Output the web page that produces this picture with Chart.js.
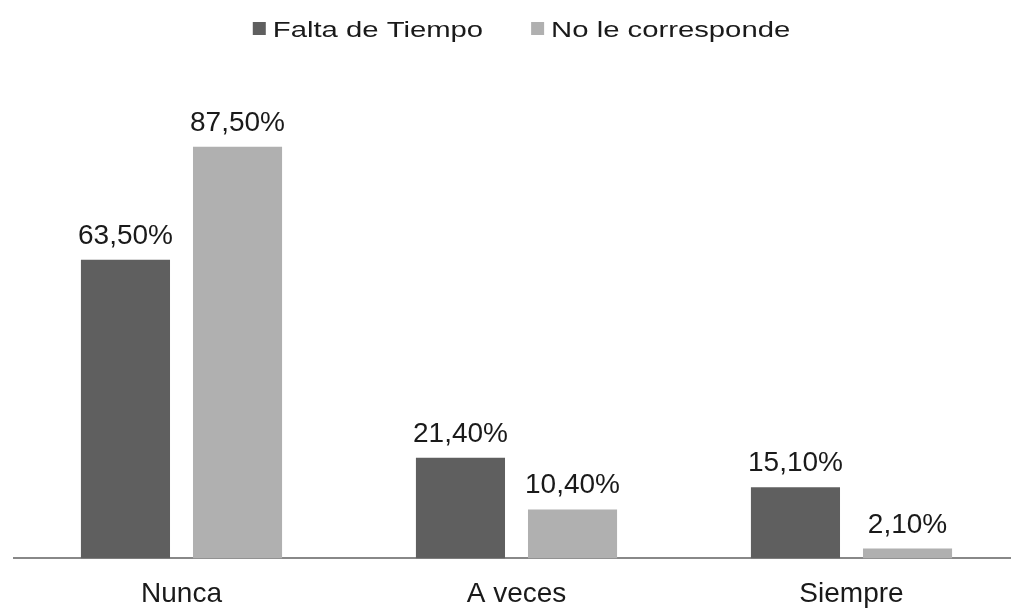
<!DOCTYPE html>
<html>
<head>
<meta charset="utf-8">
<script src="https://cdn.jsdelivr.net/npm/chart.js@4/dist/chart.umd.min.js"></script>
<style>
  html, body { margin: 0; padding: 0; background: #fff; overflow: hidden; }
  #wrap { position: relative; width: 1019px; height: 630px; }
</style>
</head>
<body>
<div id="wrap"><canvas id="c"></canvas></div>
<script>
const categories = ["Nunca", "A veces", "Siempre"];
const seriesNames = ["Falta de Tiempo", "No le corresponde"];
const faltaDeTiempo = [63.5, 21.4, 15.1];
const noLeCorresponde = [87.5, 10.4, 2.1];
const seriesColors = ["#5f5f5f", "#b0b0b0"];

function fmt(v) { return v.toFixed(2).replace('.', ',') + '%'; }

const TEXT_FONT = '"Liberation Sans", Arial, sans-serif';

const labelsPlugin = {
  id: 'valueLabels',
  afterDatasetsDraw(chart) {
    const ctx = chart.ctx;
    ctx.save();
    ctx.font = '28px ' + TEXT_FONT;
    ctx.fillStyle = '#1a1a1a';
    ctx.textAlign = 'center';
    ctx.textBaseline = 'alphabetic';
    chart.data.datasets.forEach((ds, di) => {
      const meta = chart.getDatasetMeta(di);
      meta.data.forEach((bar, i) => {
        ctx.fillText(fmt(ds.data[i]), bar.x, bar.y - 16);
      });
    });
    ctx.restore();
  }
};

const legendPlugin = {
  id: 'stretchedLegend',
  afterDraw(chart) {
    const ctx = chart.ctx;
    const sx = 1.33, box = 13, boxGap = 7, itemGap = 48;
    ctx.save();
    ctx.font = '22px ' + TEXT_FONT;
    const widths = chart.data.datasets.map(ds => ctx.measureText(ds.label).width * sx);
    let total = 0;
    widths.forEach((w, i) => { total += box + boxGap + w + (i ? itemGap : 0); });
    let x = chart.width / 2 + 12 - total / 2;
    const baseline = 36.5;
    chart.data.datasets.forEach((ds, i) => {
      ctx.fillStyle = ds.backgroundColor;
      ctx.fillRect(x, baseline - 14.5, box, box);
      x += box + boxGap;
      ctx.save();
      ctx.translate(x, baseline);
      ctx.scale(sx, 1);
      ctx.fillStyle = '#1a1a1a';
      ctx.textBaseline = 'alphabetic';
      ctx.textAlign = 'left';
      ctx.fillText(ds.label, 0, 0);
      ctx.restore();
      x += widths[i] + itemGap;
    });
    ctx.restore();
  }
};

new Chart(document.getElementById('c'), {
  type: 'bar',
  data: {
    labels: categories,
    datasets: [
      { label: seriesNames[0], data: faltaDeTiempo, backgroundColor: seriesColors[0] },
      { label: seriesNames[1], data: noLeCorresponde, backgroundColor: seriesColors[1] }
    ]
  },
  options: {
    responsive: true,
    maintainAspectRatio: false,
    animation: false,
    events: [],
    layout: { padding: { left: 14, right: 0, top: 88, bottom: 0 } },
    datasets: { bar: { categoryPercentage: 0.669, barPercentage: 0.795 } },
    plugins: { legend: { display: false }, tooltip: { enabled: false } },
    scales: {
      x: {
        grid: { display: false, drawTicks: false },
        border: { display: true, color: '#888888', width: 2 },
        ticks: { color: '#1a1a1a', padding: 19, font: { family: TEXT_FONT, size: 28 } }
      },
      y: { display: false, min: 0, max: 100 }
    }
  },
  plugins: [labelsPlugin, legendPlugin]
});
</script>
</body>
</html>
